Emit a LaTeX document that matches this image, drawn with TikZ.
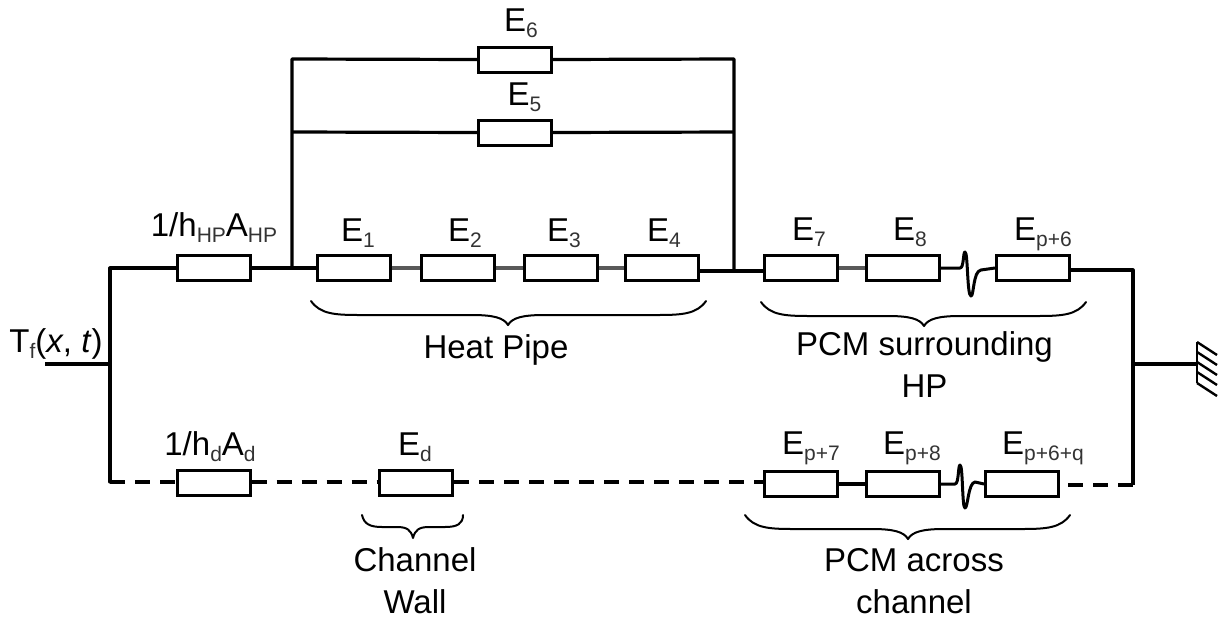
\documentclass[tikz,border=0pt]{standalone}
\usepackage{fontspec}
\setmainfont{Liberation Sans}
\newcommand{\sbs}[1]{\raisebox{-6pt}{\color{black!80}\fontsize{21}{21}\selectfont #1}}
\newcommand{\brc}[4]{% x1, xmid, x2, ytop
  \draw[bracel] (#1,#4) .. controls (#1+9,#4+13) and (#1+24,#4+14) .. (#1+48,#4+14)
    -- (#2-36,#4+14) .. controls (#2-14,#4+14) and (#2-4,#4+17) .. (#2,#4+24)
    .. controls (#2+4,#4+17) and (#2+14,#4+14) .. (#2+36,#4+14)
    -- (#3-48,#4+14) .. controls (#3-24,#4+14) and (#3-9,#4+13) .. (#3,#4);}
\tikzset{
  res/.style={draw=black,fill=white,line width=3pt,inner sep=0pt,minimum height=25pt,minimum width=73pt},
  wire/.style={draw=black,line width=3.2pt},
  lwire/.style={draw=black!65,line width=3.4pt},
  dwire/.style={draw=black,line width=3.2pt,dash pattern=on 15pt off 10pt},
  bracel/.style={draw=black,line width=2pt,line cap=round,line join=round},
  lab/.style={anchor=base,inner sep=0pt,font=\fontsize{33}{36}\selectfont},
  mlab/.style={align=center,inner sep=0pt,font=\fontsize{33}{42}\selectfont},
  squig/.style={draw=black,line width=3pt,line cap=round,line join=round},
}
\begin{document}
\begin{tikzpicture}[x=1pt,y=-1pt]
\useasboundingbox (0,0) rectangle (1227,622);
% upper branch
\node[res] (h) at (213.5,268) {};
\node[res] (e1) at (353.5,268) {};
\node[res] (e2) at (457.5,268) {};
\node[res] (e3) at (560.5,268) {};
\node[res] (e4) at (661.5,268) {};
\node[res] (e7) at (800.5,268) {};
\node[res] (e8) at (902.5,268) {};
\node[res] (ep6) at (1033,268) {};
\node[res] (e5) at (515,132.5) {};
\node[res] (e6) at (515,59.5) {};
% lower branch
\node[res] (hd) at (213.5,483) {};
\node[res] (ed) at (416,483) {};
\node[res] (ep7) at (800.5,484) {};
\node[res] (ep8) at (902.5,484) {};
\node[res] (epq) at (1022,484) {};
% junctions
\coordinate (in) at (45,364);
\coordinate (jl) at (110,364);
\coordinate (ltop) at (110,268);
\coordinate (lbot) at (110,482);
\coordinate (ja) at (292,268);
\coordinate (jb) at (734,271);
\coordinate (a6) at (292,59);
\coordinate (a5) at (292,132);
\coordinate (b6) at (734,59);
\coordinate (b5) at (734,132);
\coordinate (rtop) at (1133,270);
\coordinate (rmid) at (1133,364);
\coordinate (rbot) at (1133,485);
\coordinate (dend) at (1068,485);
\coordinate (gnd) at (1197,364);
\coordinate (g1) at (1197,342);
\coordinate (g2) at (1197,383);
% wires
\draw[wire] (in) -- (jl);
\draw[wire,line cap=round,line join=round] (h.west) -- (ltop) -- (jl) -- (lbot);
\draw[wire] (h.east) -- (ja) -- (e1.west);
\draw[wire,line join=round] (ja) -- (a6) -- (e6.west);
\draw[wire] (a5) -- (e5.west);
\draw[wire,line join=round] (e6.east) -- (b6) -- (jb);
\draw[wire] (e5.east) -- (b5);
\draw[lwire] (e1.east) -- (e2.west);
\draw[lwire] (e2.east) -- (e3.west);
\draw[lwire] (e3.east) -- (e4.west);
\draw[wire] (e4.east |- jb) -- (jb) -- (e7.west |- jb);
\draw[lwire] (e7.east) -- (e8.west);
\draw[squig] (e8.east) -- (960,268) .. controls (964,268) and (963,252) .. (965,252)
  .. controls (968,252) and (967,296) .. (971,296) .. controls (974,296) and (973,271) .. (981,270) -- (ep6.west);
\draw[wire,line join=round] (ep6.east |- rtop) -- (rtop) -- (rbot);
\draw[wire] (rmid) -- (gnd);
\draw[line width=2.8pt] (g1) -- (g2);
\foreach \y [count=\i] in {342,352,362,372,383} {
  \coordinate (gs\i) at (1197,\y);
  \coordinate (ge\i) at (1217,\y+13);
  \draw[line width=2.4pt] (gs\i) -- (ge\i);
}
% lower wires
\draw[dwire] (lbot) -- (hd.west |- lbot);
\draw[dwire] (hd.east |- lbot) -- (ed.west |- lbot);
\draw[dwire] (ed.east |- lbot) -- (ep7.west |- lbot);
\draw[wire] (ep7.east) -- (ep8.west);
\draw[squig] (ep8.east) -- (955,484) .. controls (959,484) and (958,465) .. (960,465)
  .. controls (963,465) and (962,508) .. (965,508) .. controls (968,508) and (968,483) .. (975,482) -- (epq.west);
\draw[dwire] (dend) -- (rbot);
% braces
\brc{311}{508}{706}{301}
\brc{761}{924}{1086}{302}
\brc{745}{908}{1070}{515}
\draw[bracel] (362,515) .. controls (364,524) and (370,527) .. (382,527)
  -- (397,527) .. controls (407,527) and (411,530) .. (413,538)
  .. controls (415,530) and (419,527) .. (429,527) -- (445,527)
  .. controls (457,527) and (463,524) .. (463,515);
% labels
\node[lab] (l6) at (521,31) {E\sbs{6}};
\node[lab] (l5) at (524.5,105) {E\sbs{5}};
\node[lab] (lh) at (214,236) {1/h\sbs{HP}A\sbs{HP}};
\node[lab] (l1) at (358,241) {E\sbs{1}};
\node[lab] (l2) at (465,241) {E\sbs{2}};
\node[lab] (l3) at (564,241) {E\sbs{3}};
\node[lab] (l4) at (664,241) {E\sbs{4}};
\node[lab] (l7) at (809,240) {E\sbs{7}};
\node[lab] (l8) at (910,240) {E\sbs{8}};
\node[lab] (lp6) at (1043,240) {E\sbs{p+6}};
\node[lab] (lt) at (56,352) {T\sbs{f}(\textit{x}, \textit{t})};
\node[lab] (lhd) at (210,455) {1/h\sbs{d}A\sbs{d}};
\node[lab] (led) at (415,455) {E\sbs{d}};
\node[lab] (lp7) at (811,454) {E\sbs{p+7}};
\node[lab] (lp8) at (912,454) {E\sbs{p+8}};
\node[lab] (lpq) at (1043,454) {E\sbs{p+6+q}};
\node[lab] (hp) at (496,358) {Heat Pipe};
\node[mlab] (sur) at (924.5,365) {PCM surrounding\\HP};
\node[mlab] (acr) at (914,581) {PCM across\\channel};
\node[mlab] (wal) at (415,581) {Channel\\Wall};
\end{tikzpicture}
\end{document}
